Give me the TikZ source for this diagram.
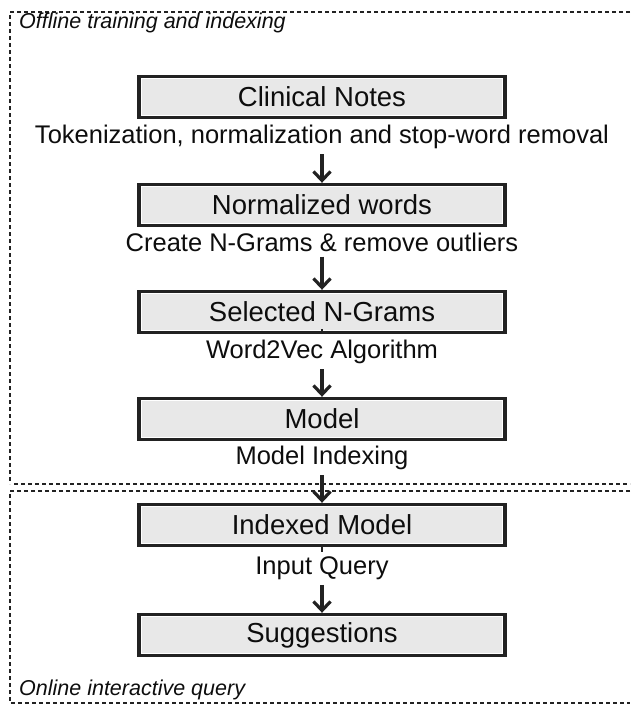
\documentclass[tikz,border=0pt]{standalone}
\usepackage{fontspec}
\setmainfont{Liberation Sans}
\usetikzlibrary{arrows.meta}
\definecolor{edge}{HTML}{222222}
\definecolor{boxfill}{HTML}{E8E8E8}
\definecolor{ink}{HTML}{0D0D0D}
\begin{document}
\begin{tikzpicture}[x=1pt,y=-1pt,
  stepbox/.style={draw=edge, line width=3.4pt, fill=boxfill, minimum width=366pt, minimum height=41pt, inner sep=0pt,
    font=\fontsize{27.5}{30}\selectfont, text=ink,
    path picture={\draw[white,line width=5.4pt] (path picture bounding box.north west) rectangle (path picture bounding box.south east);}},
  lbl/.style={inner sep=0pt, text=ink, font=\fontsize{25.5}{28}\selectfont},
  sect/.style={inner sep=0pt, text=ink, anchor=west, font=\itshape\fontsize{21.5}{24}\selectfont},
  arr/.style={draw=edge, line width=3.2pt, shorten <=5pt, -{Straight Barb[length=9pt,width=17pt]}},
  tick/.style={draw=edge, line width=2pt},
  frame/.style={draw=edge, line width=1.3pt, dash pattern=on 4pt off 3pt}]
\useasboundingbox (0,0) rectangle (630,704);

% section frames
\coordinate (ftl) at (10,12);
\coordinate (ftr) at (630,12);
\coordinate (fml) at (10,484);
\coordinate (fmls) at (14,484);
\coordinate (fmr) at (630,484);
\coordinate (fbl) at (10,491);
\coordinate (fbr) at (630,491);
\coordinate (fdl) at (10,703);
\coordinate (fdr) at (630,703);
\draw[frame] (ftr) -- (ftl) -- (fml);
\draw[frame] (fmls) -- (fmr);
\draw[frame] (fbr) -- (fbl) -- (fdl) -- (fdr);

\node[sect] (s1) at (19,23) {Offline training and indexing};
\node[sect] (s2) at (19,690) {Online interactive query};

% boxes and labels
\node[stepbox] (b1) at (322,97) {Clinical Notes};
\node[lbl] (l1) at (322,137) {Tokenization, normalization and stop-word removal};
\node[stepbox] (b2) at (322,205) {Normalized words};
\node[lbl] (l2) at (322,242) {Create N-Grams \& remove outliers};
\node[stepbox] (b3) at (322,312) {Selected N-Grams};
\node[lbl] (l3) at (322,352) {Word2Vec Algorithm};
\node[stepbox] (b4) at (322,419) {Model};
\node[lbl] (l4) at (322,458) {Model Indexing};
\node[stepbox] (b5) at (322,525) {Indexed Model};
\node[lbl] (l5) at (322,568) {Input Query};
\node[stepbox] (b6) at (322,635) {Suggestions};

% connectors
\draw[arr] (l1.south) -- (b2.north);
\draw[arr] (l2.south) -- (b3.north);
\draw[arr] (l3.south) -- (b4.north);
\draw[arr] (l4.south) -- (b5.north);
\draw[arr] (l5.south) -- (b6.north);

% small marks
\draw[tick] (b3.south) -- ++(0,-5);
\draw[tick] (b5.south) -- ++(0,5);
\end{tikzpicture}
\end{document}
